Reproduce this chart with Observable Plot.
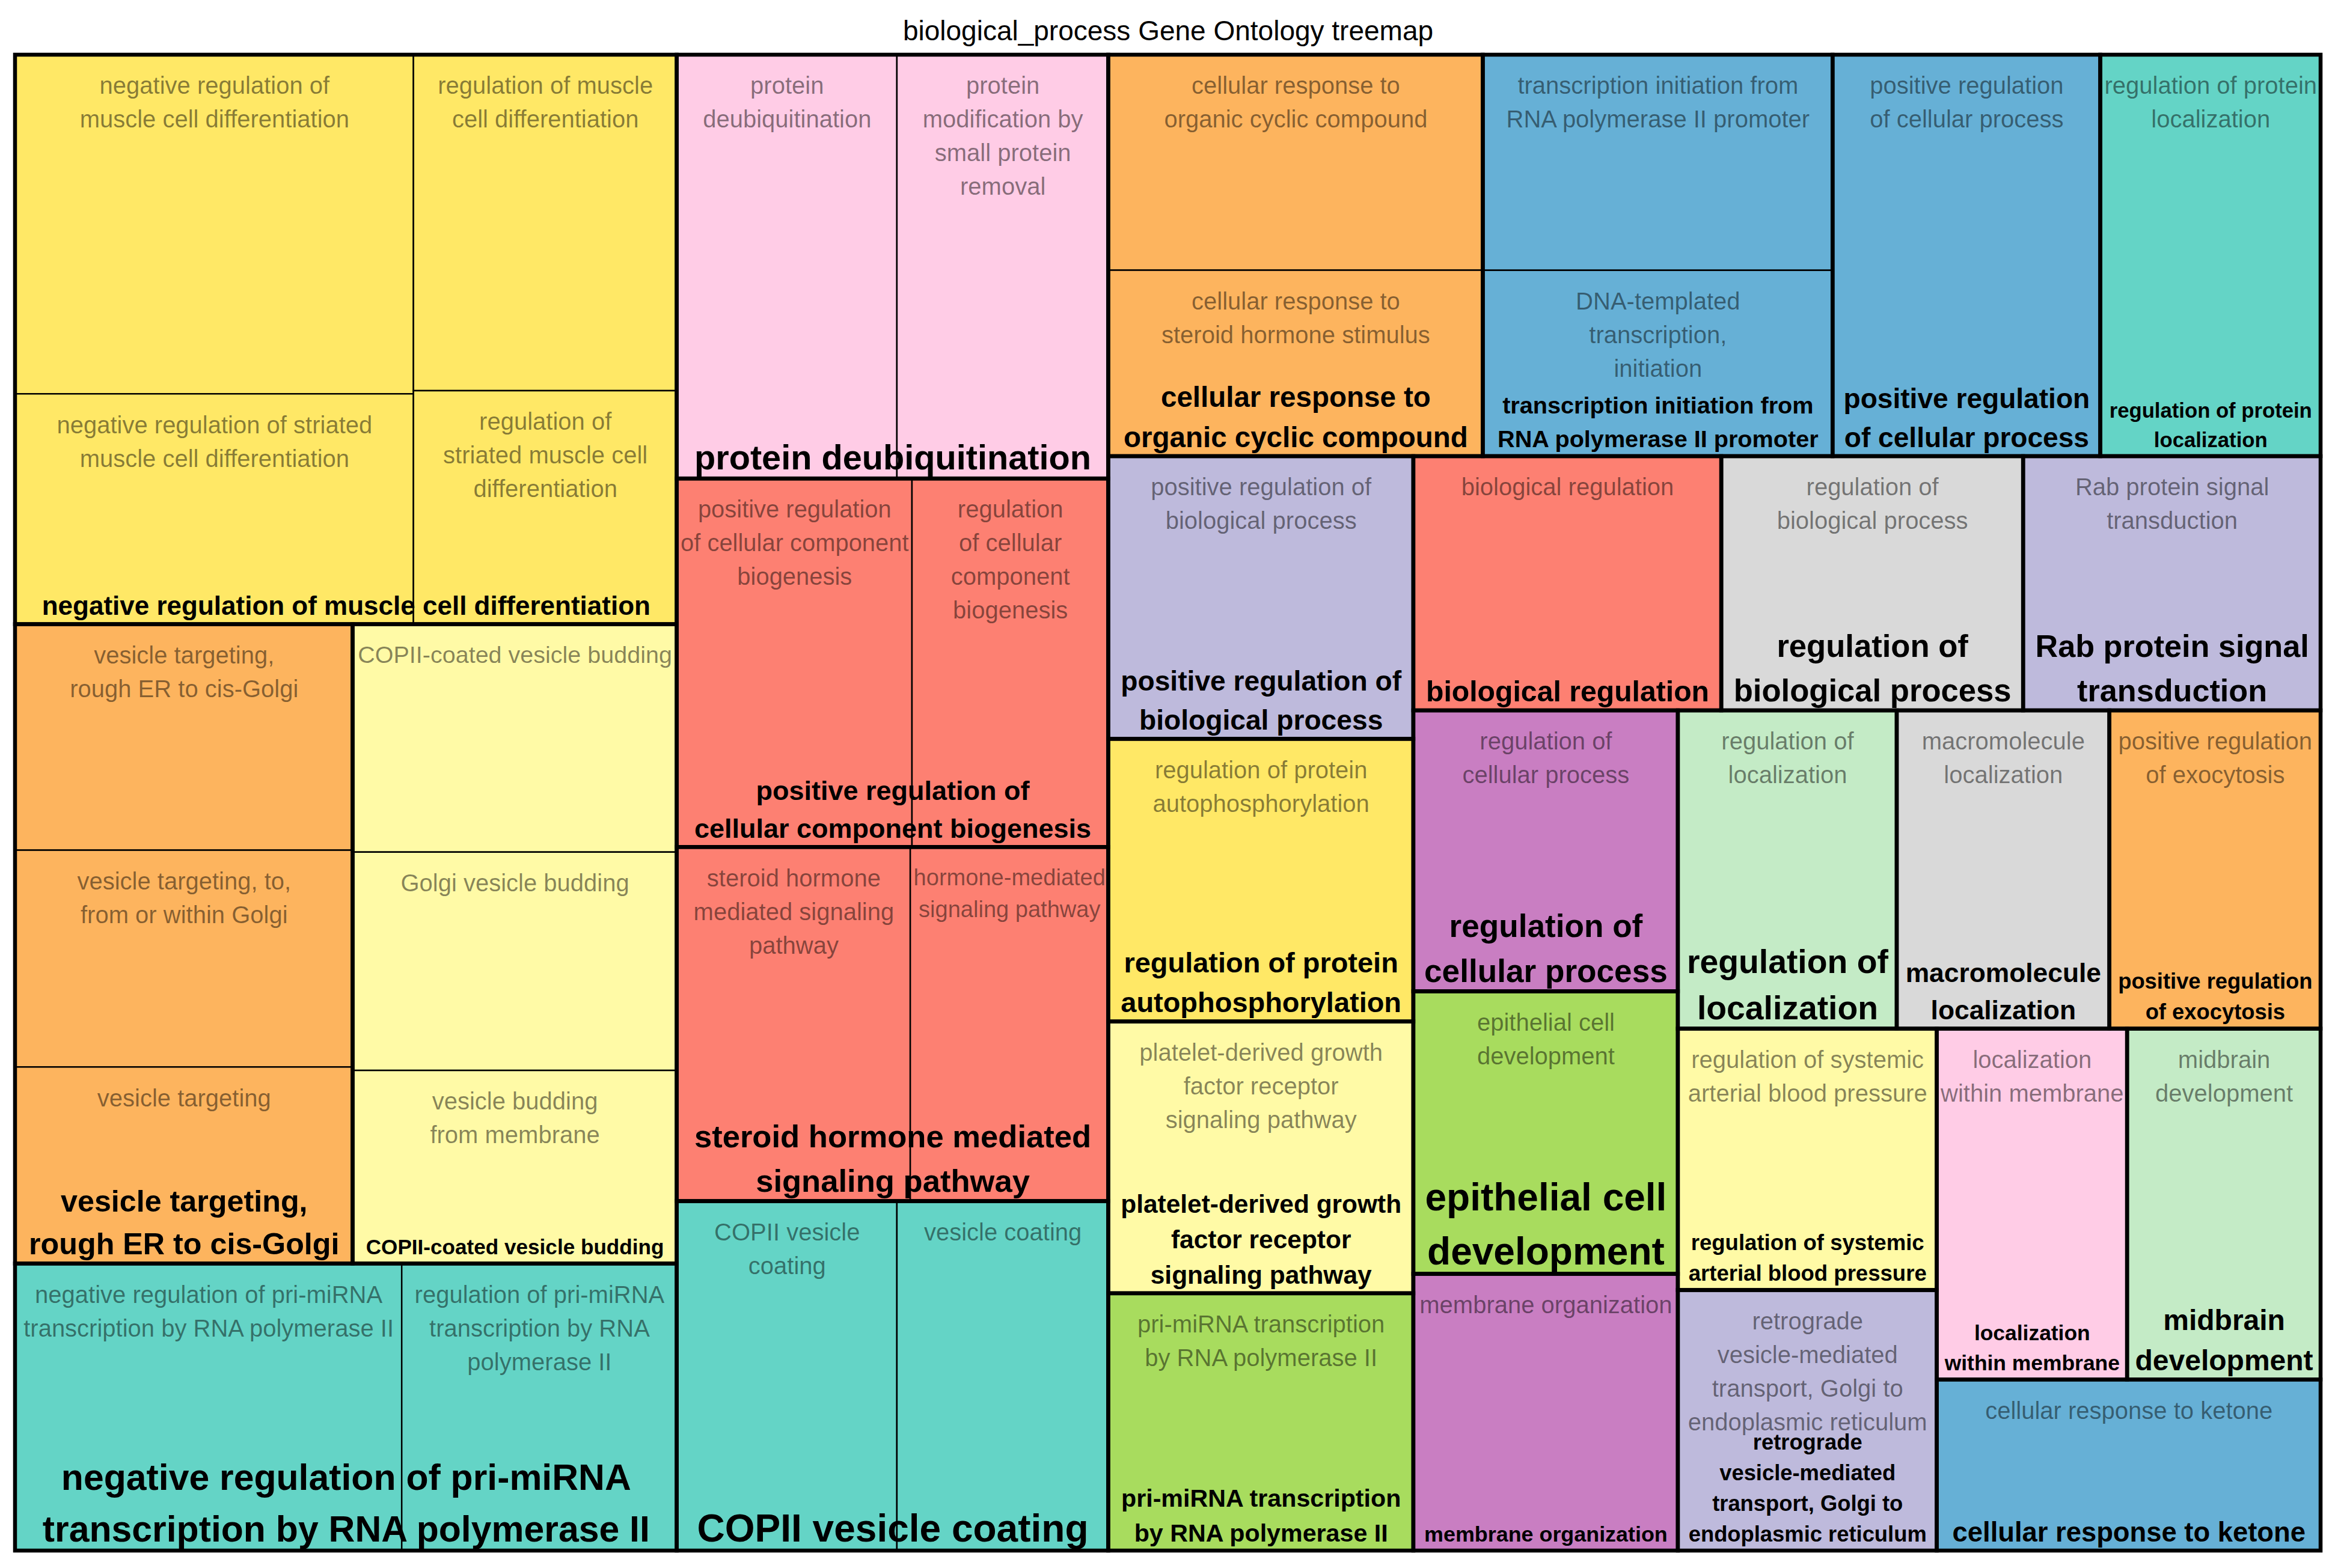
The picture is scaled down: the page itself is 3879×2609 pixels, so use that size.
<!DOCTYPE html>
<html><head><meta charset="utf-8">
<script src="https://cdn.jsdelivr.net/npm/d3@7"></script>
<script src="https://cdn.jsdelivr.net/npm/@observablehq/plot@0.6"></script>
<style>html,body{margin:0;padding:0;background:#fff;} #chart svg{display:block;}</style>
</head><body><div id="chart"></div>
<script>
const title = "biological_process Gene Ontology treemap";

// Representative terms (groups): displayed label, colour
const groupLabels = [
  "negative regulation of muscle cell differentiation",
  "vesicle targeting,\nrough ER to cis-Golgi",
  "COPII-coated vesicle budding",
  "negative regulation of pri-miRNA\ntranscription by RNA polymerase II",
  "protein deubiquitination",
  "positive regulation of\ncellular component biogenesis",
  "steroid hormone mediated\nsignaling pathway",
  "COPII vesicle coating",
  "cellular response to\norganic cyclic compound",
  "transcription initiation from\nRNA polymerase II promoter",
  "positive regulation\nof cellular process",
  "regulation of protein\nlocalization",
  "positive regulation of\nbiological process",
  "biological regulation",
  "regulation of\nbiological process",
  "Rab protein signal\ntransduction",
  "regulation of protein\nautophosphorylation",
  "platelet-derived growth\nfactor receptor\nsignaling pathway",
  "pri-miRNA transcription\nby RNA polymerase II",
  "regulation of\ncellular process",
  "epithelial cell\ndevelopment",
  "membrane organization",
  "regulation of\nlocalization",
  "macromolecule\nlocalization",
  "positive regulation\nof exocytosis",
  "regulation of systemic\narterial blood pressure",
  "retrograde\nvesicle-mediated\ntransport, Golgi to\nendoplasmic reticulum",
  "localization\nwithin membrane",
  "midbrain\ndevelopment",
  "cellular response to ketone"
];
const groupColors = [
  "#FFE866", "#FDB45E", "#FFFAA6", "#64D4C6", "#FFCCE6", "#FD8072", "#FD8072", "#64D4C6",
  "#FDB45E", "#66B0D6", "#66B0D6", "#64D4C6", "#BEBADC", "#FD8072", "#D9D9D9", "#BEBADC",
  "#FFE866", "#FFFAA6", "#A8DC5E", "#C97EC2", "#A8DC5E", "#C97EC2", "#C4EBC6", "#D9D9D9",
  "#FDB45E", "#FFFAA6", "#BEBADC", "#FFCCE6", "#C4EBC6", "#66B0D6"
];

// GO terms (leaves): displayed label, representative group, value
const termLabels = [
  "negative regulation of\nmuscle cell differentiation",
  "regulation of muscle\ncell differentiation",
  "negative regulation of striated\nmuscle cell differentiation",
  "regulation of\nstriated muscle cell\ndifferentiation",
  "vesicle targeting,\nrough ER to cis-Golgi",
  "vesicle targeting, to,\nfrom or within Golgi",
  "vesicle targeting",
  "COPII-coated vesicle budding",
  "Golgi vesicle budding",
  "vesicle budding\nfrom membrane",
  "negative regulation of pri-miRNA\ntranscription by RNA polymerase II",
  "regulation of pri-miRNA\ntranscription by RNA\npolymerase II",
  "protein\ndeubiquitination",
  "protein\nmodification by\nsmall protein\nremoval",
  "positive regulation\nof cellular component\nbiogenesis",
  "regulation\nof cellular\ncomponent\nbiogenesis",
  "steroid hormone\nmediated signaling\npathway",
  "hormone-mediated\nsignaling pathway",
  "COPII vesicle\ncoating",
  "vesicle coating",
  "cellular response to\norganic cyclic compound",
  "cellular response to\nsteroid hormone stimulus",
  "transcription initiation from\nRNA polymerase II promoter",
  "DNA-templated\ntranscription,\ninitiation",
  "positive regulation\nof cellular process",
  "regulation of protein\nlocalization",
  "positive regulation of\nbiological process",
  "biological regulation",
  "regulation of\nbiological process",
  "Rab protein signal\ntransduction",
  "regulation of protein\nautophosphorylation",
  "platelet-derived growth\nfactor receptor\nsignaling pathway",
  "pri-miRNA transcription\nby RNA polymerase II",
  "regulation of\ncellular process",
  "epithelial cell\ndevelopment",
  "membrane organization",
  "regulation of\nlocalization",
  "macromolecule\nlocalization",
  "positive regulation\nof exocytosis",
  "regulation of systemic\narterial blood pressure",
  "retrograde\nvesicle-mediated\ntransport, Golgi to\nendoplasmic reticulum",
  "localization\nwithin membrane",
  "midbrain\ndevelopment",
  "cellular response to ketone"
];
const termGroups = [
  0, 0, 0, 0, 1, 1, 1, 2, 2, 2, 3, 3, 4, 4, 5, 5, 6, 6, 7, 7, 8, 8, 9, 9,
  10, 11, 12, 13, 14, 15, 16, 17, 18, 19, 20, 21, 22, 23, 24, 25, 26, 27, 28, 29
];
const termValues = [
  611, 400, 415, 278, 345, 331, 300, 334, 320, 283, 502, 357, 422, 405, 392, 327,
  374, 317, 348, 334, 365, 315, 341, 294, 486, 400, 390, 354, 347, 342, 390, 375,
  355, 336, 338, 331, 315, 306, 304, 306, 305, 302, 307, 297
];

// How terms are tiled inside each group ("rows" = stacked, "cols" = side by side)
const groupTiling = [
  ["cols", [["rows", [0, 2]], ["rows", [1, 3]]]],
  "rows", "rows", "cols", "cols", "cols", "cols", "cols", "rows", "rows",
  "rows", "rows", "rows", "rows", "rows", "rows", "rows", "rows", "rows", "rows",
  "rows", "rows", "rows", "rows", "rows", "rows", "rows", "rows", "rows", "rows"
];
// How groups are tiled in the whole map
const groupArrangement =
  ["cols", [
    ["rows", [0, ["cols", [1, 2]], 3]],
    ["rows", [4, 5, 6, 7]],
    ["rows", [
      ["cols", [8, 9, 10, 11]],
      ["cols", [
        ["rows", [12, 16, 17, 18]],
        ["rows", [
          ["cols", [13, 14, 15]],
          ["cols", [
            ["rows", [19, 20, 21]],
            ["rows", [
              ["cols", [22, 23, 24]],
              ["cols", [
                ["rows", [25, 26]],
                ["rows", [["cols", [27, 28]], 29]]
              ]]
            ]]
          ]]
        ]]
      ]]
    ]]
  ]];

// ---- build hierarchy ----
const termsByGroup = groupLabels.map((_, g) => termLabels.map((_, i) => i).filter(i => termGroups[i] === g));
const termNode = i => ({term: i, value: termValues[i]});
function tilingNode(spec, g) {
  if (typeof spec === "number") return termNode(termsByGroup[g][spec]);
  return {split: spec[0], children: spec[1].map(s => tilingNode(s, g))};
}
function groupNode(g) {
  const t = groupTiling[g];
  const node = typeof t === "string" ? {split: t, children: termsByGroup[g].map(termNode)} : tilingNode(t, g);
  node.group = g;
  return node;
}
function arrangeNode(spec) {
  if (typeof spec === "number") return groupNode(spec);
  return {split: spec[0], children: spec[1].map(arrangeNode)};
}
const root = d3.hierarchy(arrangeNode(groupArrangement)).sum(d => d.children ? 0 : d.value);
d3.treemap().size([1, 1]).round(false)
  .tile((node, x0, y0, x1, y1) => (node.data.split === "cols" ? d3.treemapDice : d3.treemapSlice)(node, x0, y0, x1, y1))(root);

// ---- page geometry ----
const W = 3879, H = 2609;
const mL = 25, mR = 19, mT = 91, mB = 29;
const FW = W - mL - mR, FH = H - mT - mB;
const FONT = '"Liberation Sans", Arial, Helvetica, sans-serif';

const ctx = document.createElement("canvas").getContext("2d");
function textWidth(lines, weight) {
  ctx.font = `${weight} 100px "Liberation Sans"`;
  return d3.max(lines, l => ctx.measureText(l).width) / 100;
}

const leaves = root.leaves().map(n => {
  const label = termLabels[n.data.term];
  const wpx = (n.x1 - n.x0) * FW;
  const fs = Math.min(40, 0.97 * wpx / textWidth(label.split("\n"), "normal"));
  return {x0: n.x0, x1: n.x1, y0: n.y0, y1: n.y1, label, fs,
          term: label.replace(/\n/g, " "), color: groupColors[termGroups[n.data.term]]};
});
const groups = root.descendants().filter(n => n.data.group !== undefined).map(n => {
  const label = groupLabels[n.data.group];
  const wpx = (n.x1 - n.x0) * FW;
  const fs = Math.min(64, 0.92 * wpx / textWidth(label.split("\n"), "bold"));
  return {x0: n.x0, x1: n.x1, y0: n.y0, y1: n.y1, label, fs};
});

const chart = Plot.plot({
  width: W, height: H,
  marginLeft: mL, marginRight: mR, marginTop: mT, marginBottom: mB,
  x: {domain: [0, 1], axis: null},
  y: {domain: [0, 1], reverse: true, axis: null},
  color: {type: "identity"},
  style: {fontFamily: FONT, background: "#fff"},
  marks: [
    Plot.rect(leaves, {x1: "x0", x2: "x1", y1: "y0", y2: "y1", fill: "color", stroke: "#000", strokeWidth: 2.5}),
    Plot.rect(groups, {x1: "x0", x2: "x1", y1: "y0", y2: "y1", fill: "none", stroke: "#000", strokeWidth: 6.5}),
    Plot.text(leaves, {x: d => (d.x0 + d.x1) / 2, y: "y0", text: "label", lineAnchor: "top", dy: 25,
      fontSize: "fs", lineHeight: 1.4, fill: "#000", fillOpacity: 0.47, fontFamily: FONT}),
    Plot.text(groups, {x: d => (d.x0 + d.x1) / 2, y: "y1", text: "label", lineAnchor: "bottom", dy: -16,
      fontSize: "fs", lineHeight: 1.4, fill: "#000", fontWeight: "bold", fontFamily: FONT}),
    Plot.text([title], {frameAnchor: "top", dy: -39, lineAnchor: "middle", text: d => d,
      fontSize: 46, fill: "#000", fontFamily: FONT})
  ]
});
document.getElementById("chart").appendChild(chart);
</script>
</body></html>
